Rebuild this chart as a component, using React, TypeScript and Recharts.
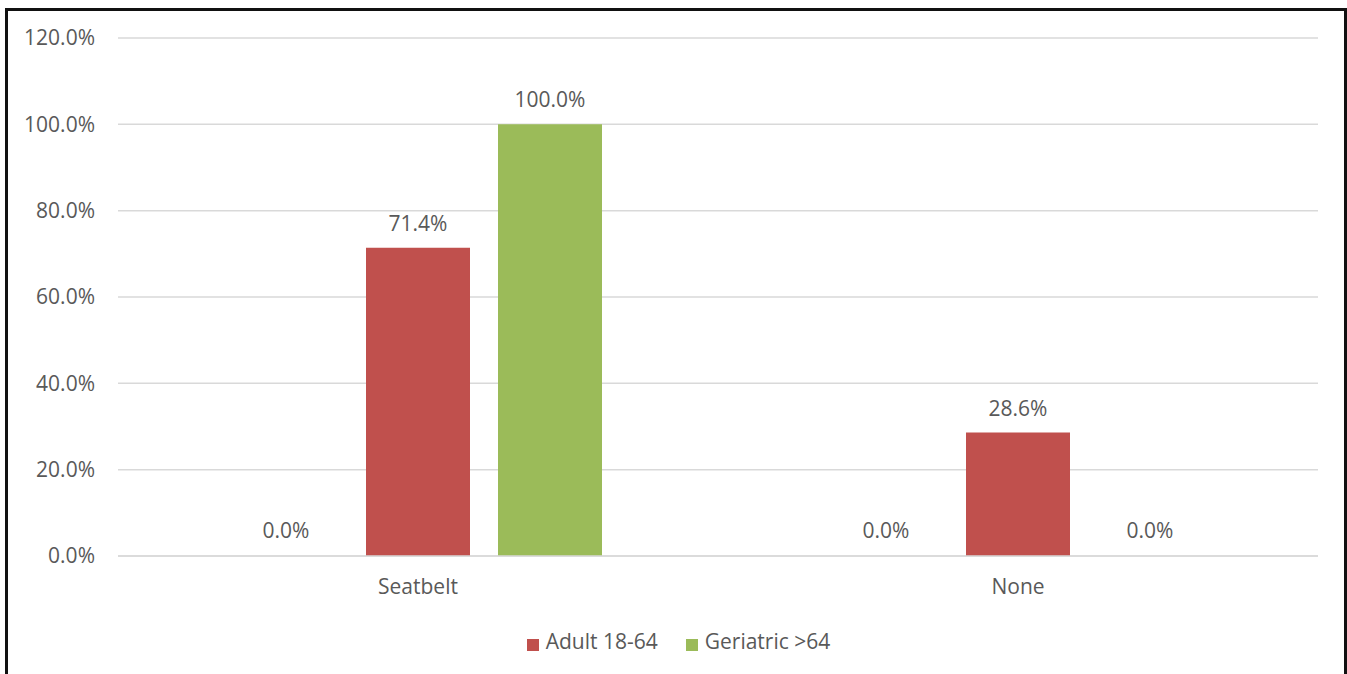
import { BarChart, Bar, XAxis, YAxis, CartesianGrid, Legend, LabelList, Cell } from 'recharts';

const categories = ['Seatbelt', 'None'];
const pediatric = [0, 0];
const adult = [71.4, 28.6];
const geriatric = [100, 0];
const yTicks = [0, 20, 40, 60, 80, 100, 120];

const data = categories.map((name, i) => ({
  name,
  pediatric: pediatric[i],
  adult: adult[i],
  geriatric: geriatric[i],
}));

const FONT = '"Open Sans", sans-serif';
const GREY = '#595959';
const FS = 21;
const pct = (v: any) => `${Number(v).toFixed(1)}%`;

// zero bars still need their "0.0%" label, so they get 1px and no fill
const cells = (vals: number[], color: string) =>
  vals.map((v, i) => <Cell key={i} fill={v === 0 ? 'transparent' : color} />);

export default function App() {
  return (
    <div style={{ position: 'fixed', left: 0, top: 0, width: 1347, height: 674, background: '#fff', overflow: 'hidden', fontFamily: FONT }}>
      {/* frame around the chart, bottom edge is cut off */}
      <div style={{ position: 'absolute', left: 5, top: 8, width: 1336, height: 700, border: '3px solid #111' }} />
      <div style={{ position: 'absolute', left: 0, top: 0 }}>
        <BarChart
          width={1347}
          height={674}
          data={data}
          margin={{ top: 38, right: 29, left: 0, bottom: 88 }}
          barSize={104}
          barGap={28}
        >
          <CartesianGrid vertical={false} stroke="#d9d9d9" strokeWidth={1.5} />
          <XAxis
            dataKey="name"
            axisLine={{ stroke: '#d9d9d9', strokeWidth: 1.5 }}
            tickLine={false}
            tickMargin={17}
            tick={{ fill: GREY, fontSize: FS, fontFamily: FONT }}
          />
          <YAxis
            width={118}
            domain={[0, 120]}
            ticks={yTicks}
            axisLine={false}
            tickLine={false}
            tickMargin={17}
            tickFormatter={pct}
            tick={{ fill: GREY, fontSize: FS, fontFamily: FONT }}
          />
          <Legend
            layout="horizontal"
            verticalAlign="middle"
            align="center"
            iconType="square"
            iconSize={12}
            wrapperStyle={{ top: 627, left: 19, width: 1347 }}
            formatter={(v: any) => (
              <span style={{ color: GREY, fontSize: FS, fontFamily: FONT, marginLeft: 3, marginRight: 18 }}>{v}</span>
            )}
          />
          <Bar dataKey="pediatric" name="Pediatric <18" fill="#4f81bd" legendType="none" minPointSize={1} isAnimationActive={false}>
            {cells(pediatric, '#4f81bd')}
            <LabelList dataKey="pediatric" position="top" offset={17} formatter={pct} fill={GREY} fontSize={FS} fontFamily={FONT} />
          </Bar>
          <Bar dataKey="adult" name="Adult 18-64" fill="#c0504d" minPointSize={1} isAnimationActive={false}>
            {cells(adult, '#c0504d')}
            <LabelList dataKey="adult" position="top" offset={17} formatter={pct} fill={GREY} fontSize={FS} fontFamily={FONT} />
          </Bar>
          <Bar dataKey="geriatric" name="Geriatric >64" fill="#9bbb59" minPointSize={1} isAnimationActive={false}>
            {cells(geriatric, '#9bbb59')}
            <LabelList dataKey="geriatric" position="top" offset={17} formatter={pct} fill={GREY} fontSize={FS} fontFamily={FONT} />
          </Bar>
        </BarChart>
      </div>
    </div>
  );
}
